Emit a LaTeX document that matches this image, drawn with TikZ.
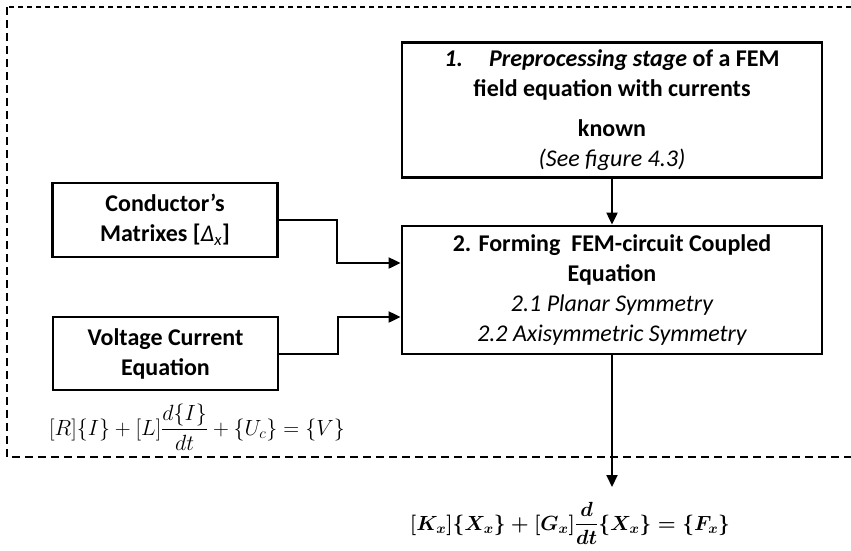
\RequirePackage{fix-cm}
\documentclass[tikz,border=0pt]{standalone}
\usepackage{amsmath}
\usepackage[no-math]{fontspec}
\setmainfont{Carlito}
\usetikzlibrary{arrows.meta}

\newcommand{\circuiteq}{$[R]\{I\}+[L]\dfrac{d\{I\}}{dt}+\{U_c\}=\{V\}$}
\newcommand{\coupledeq}{$\boldsymbol{[K_x]\{X_x\}+[G_x]}\dfrac{\boldsymbol{d}}{\boldsymbol{dt}}\boldsymbol{\{X_x\}=\{F_x\}}$}

\tikzset{
  stagebox/.style={draw, line width=2.8pt, rectangle, align=center, inner sep=4pt,
    font=\fontsize{24}{30}\selectfont\bfseries},
  arr/.style={line width=2pt, -{Triangle[length=12pt,width=11pt]}},
  frame/.style={line width=1.8pt},
  eqtext/.style={inner sep=0pt},
}

\begin{document}
\begin{tikzpicture}[x=1pt,y=-1pt]
\useasboundingbox (0,0) rectangle (851,550);

% dashed enclosure, open towards the right
\draw[frame, dash pattern=on 5pt off 4pt] (851,7) -- (7,7);
\draw[frame, dash pattern=on 8pt off 5pt] (7,7) -- (7,457) -- (851,457);

% stages
\node[stagebox, minimum width=420pt, minimum height=135pt] (pre) at (612,110)
  {\textit{1.}\hspace{26pt}\textit{Preprocessing stage} of a FEM\\
   field equation with currents\\[10pt]
   known\\
   {\mdseries\itshape (See figure 4.3)}};

\node[stagebox, minimum width=420pt, minimum height=128pt] (form) at (612,290)
  {2. Forming\ \ FEM-circuit Coupled\\
   Equation\\
   {\mdseries\itshape 2.1 Planar Symmetry}\\
   {\mdseries\itshape 2.2 Axisymmetric Symmetry}};

\node[stagebox, minimum width=225pt, minimum height=74pt] (cond) at (165,220)
  {Conductor’s\\ Matrixes [{\mdseries\itshape Δ\textsubscript{x}}]};

\node[stagebox, minimum width=225pt, minimum height=73pt] (volt) at (165.5,353.5)
  {Voltage Current\\ Equation};

% equations
\node[eqtext, font=\fontsize{22}{26}\selectfont] (veq) at (197,427) {\circuiteq};
\node[eqtext, font=\fontsize{20.5}{24}\selectfont] (feq) at (570,523) {\coupledeq};

% connectors
\coordinate (j1) at (337,263);
\coordinate (j2) at (338,317);
\coordinate (out) at (612,487);

\draw[arr] (cond.east) -| (j1) -- (j1 -| form.west);
\draw[arr] (volt.east) -| (j2) -- (j2 -| form.west);
\draw[arr] (pre.south) -- (form.north);
\draw[arr] (form.south) -- (out);
\end{tikzpicture}
\end{document}
